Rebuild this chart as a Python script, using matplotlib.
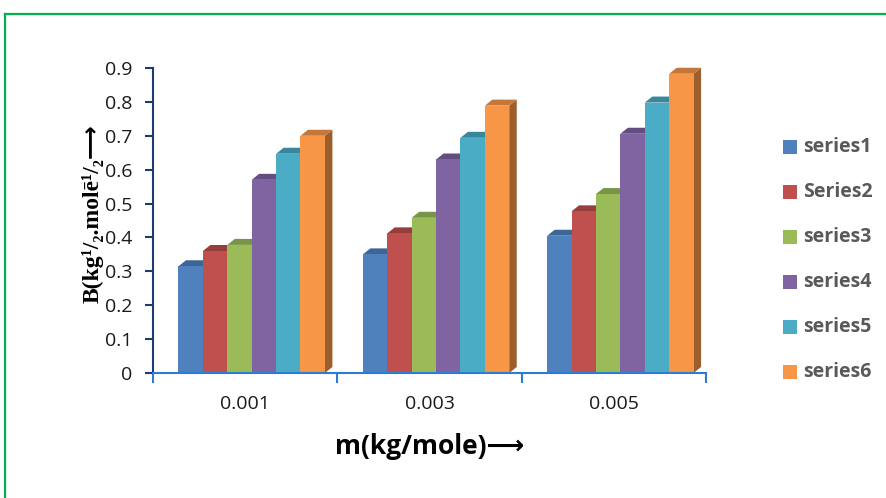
import matplotlib
matplotlib.use("Agg")
import matplotlib.pyplot as plt
from matplotlib.patches import Rectangle, Polygon
from matplotlib.lines import Line2D
import numpy as np

# datos
categorias = ["0.001", "0.003", "0.005"]
series = ["series1", "Series2", "series3", "series4", "series5", "series6"]
s1 = [0.315, 0.350, 0.405]
s2 = [0.360, 0.412, 0.477]
s3 = [0.378, 0.458, 0.528]
s4 = [0.570, 0.630, 0.706]
s5 = [0.647, 0.694, 0.798]
s6 = [0.700, 0.789, 0.883]
valores = [s1, s2, s3, s4, s5, s6]

colores = ["#4F81BD", "#C0504D", "#9BBB59", "#8064A2", "#4BACC6", "#F79646"]
techos = ["#3D6696", "#963E3B", "#789446", "#644E80", "#39879C", "#C4773A"]
lados = ["#2F4F75", "#74302E", "#5C7236", "#4C3C62", "#2C6879", "#9C5E2C"]

W, H = 887, 498
fig = plt.figure(figsize=(W / 100, H / 100), dpi=100)
ax = fig.add_axes([153 / W, 125 / H, 553 / W, 305 / H])
ax.set_xlim(-0.5, 2.5)
ax.set_ylim(0, 0.9)

# tamano de un pixel en unidades de datos
px = 3.0 / 553
py = 0.9 / 305
dx, dy = 7.5 * px, 6 * py
ancho = 24.4 * px
margen = 25.5 * px

for g in range(len(categorias)):
    for i, serie in enumerate(valores):
        v = serie[g]
        x0 = g - 0.5 + margen + i * ancho
        z = 3 + g * 10 + i
        ax.add_patch(Polygon([(x0 + ancho, 0), (x0 + ancho + dx, dy),
                              (x0 + ancho + dx, v + dy), (x0 + ancho, v)],
                             closed=True, facecolor=lados[i], edgecolor="none",
                             zorder=z, clip_on=False))
        ax.add_patch(Polygon([(x0, v), (x0 + ancho, v), (x0 + ancho + dx, v + dy),
                              (x0 + dx, v + dy)], closed=True, facecolor=techos[i],
                             edgecolor="none", zorder=z, clip_on=False))
        ax.add_patch(Rectangle((x0, 0), ancho, v, facecolor=colores[i],
                               edgecolor="none", zorder=z))

# ejes
for lado in ["top", "right"]:
    ax.spines[lado].set_visible(False)
ax.spines["left"].set_color("#1F3A6E")
ax.spines["left"].set_linewidth(1.5)
ax.spines["bottom"].set_color("#2E7BD6")
ax.spines["bottom"].set_linewidth(1.5)
ax.spines["bottom"].set_zorder(50)

ax.set_yticks(np.arange(0, 0.91, 0.1))
ax.set_yticklabels(["0"] + [f"{t:.1f}" for t in np.arange(0.1, 0.91, 0.1)])
ax.tick_params(axis="y", direction="out", length=6, width=1.5, color="#1F3A6E",
               pad=9, labelsize=14)
ax.set_xticks([-0.5, 0.5, 1.5, 2.5])
ax.set_xticklabels([])
ax.tick_params(axis="x", which="major", direction="out", length=7, width=1.5,
               color="#2E7BD6")
ax.set_xticks(range(len(categorias)), minor=True)
ax.set_xticklabels(categorias, minor=True)
ax.tick_params(axis="x", which="minor", length=0, pad=16, labelsize=14)
for t in ax.get_xticklabels(minor=True) + ax.get_yticklabels():
    t.set_family("Open Sans")
    t.set_color("#1a1a1a")

# titulos de ejes
fig.text(93 / W, 1 - 214 / H, "B(kg¹/₂.molē¹/₂⟶", rotation=90, ha="center",
         va="center", fontsize=17, fontweight="bold",
         family=["Liberation Serif", "DejaVu Sans"])
fig.text(430 / W, 1 - 447 / H, "m(kg/mole)⟶", ha="center", va="center",
         fontsize=19, fontweight="bold", family=["Open Sans", "DejaVu Sans"])

# leyenda
for i, nombre in enumerate(series):
    yc = 147 + i * 45
    fig.patches.append(Rectangle((783 / W, 1 - (yc + 7) / H), 14 / W, 14 / H,
                                 facecolor=colores[i], edgecolor="none",
                                 transform=fig.transFigure))
    fig.text(803 / W, 1 - yc / H, nombre, ha="left", va="center", fontsize=14,
             fontweight="bold", color="#595959", family="Open Sans")

# borde verde
fig.add_artist(Line2D([5.5 / W, 5.5 / W], [0, 1 - 14.5 / H], transform=fig.transFigure,
                      color="#00B050", linewidth=1.6))
fig.add_artist(Line2D([5.5 / W, 1], [1 - 14.5 / H, 1 - 14.5 / H], transform=fig.transFigure,
                      color="#00B050", linewidth=1.6))

fig.savefig("out.png", dpi=100)
